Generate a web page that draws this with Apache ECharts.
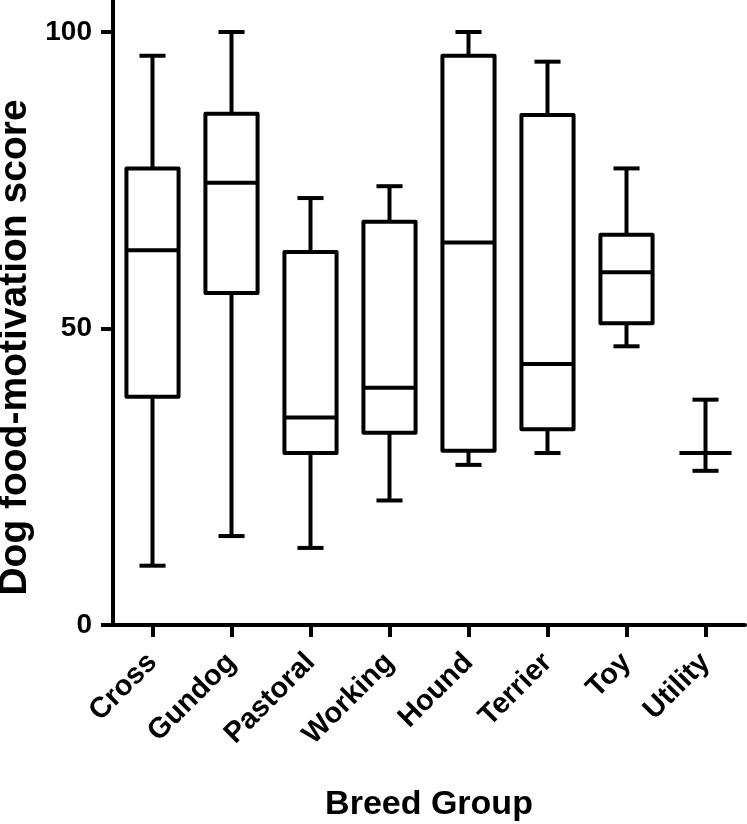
<!DOCTYPE html>
<html>
<head>
<meta charset="utf-8">
<script src="https://cdn.jsdelivr.net/npm/echarts@6/dist/echarts.min.js"></script>
<style>html,body{margin:0;padding:0;background:#fff;}#c{width:747px;height:824px;}</style>
</head>
<body>
<div id="c"></div>
<script>
const categories = ['Cross', 'Gundog', 'Pastoral', 'Working', 'Hound', 'Terrier', 'Toy', 'Utility'];
const minVals = [10, 15, 13, 21, 27, 29, 47, 26];
const q1Vals  = [38.5, 56, 29, 32.4, 29.4, 33, 50.9, 29];
const medVals = [63.2, 74.6, 35, 40, 64.5, 44, 59.5, 29];
const q3Vals  = [77, 86.2, 62.9, 68, 96, 86, 65.8, 29];
const maxVals = [96, 100, 72, 74, 100, 95, 77, 38];
const yTicks = [0, 50, 100];

const FONT = "'Liberation Sans', Arial, sans-serif";
const chart = echarts.init(document.getElementById('c'), null, {renderer: 'canvas'});

const seriesData = categories.map((c, i) => [i, minVals[i], q1Vals[i], medVals[i], q3Vals[i], maxVals[i]]);

function renderItem(params, api) {
  const i = api.value(0);
  const pMin = api.coord([i, api.value(1)]);
  const pQ1 = api.coord([i, api.value(2)]);
  const pMed = api.coord([i, api.value(3)]);
  const pQ3 = api.coord([i, api.value(4)]);
  const pMax = api.coord([i, api.value(5)]);
  const bw = api.size([1, 0])[0] * 0.66;
  const cw = bw / 2;
  const x = pMed[0];
  const ls = {stroke: '#000', lineWidth: 4, fill: null};
  const children = [];
  if (pQ1[1] - pQ3[1] > 0.5) {
    children.push({type: 'rect', shape: {x: x - bw / 2, y: pQ3[1], width: bw, height: pQ1[1] - pQ3[1]},
      style: {stroke: '#000', lineWidth: 4, fill: 'rgba(0,0,0,0)', lineJoin: 'round'}});
  }
  children.push({type: 'line', shape: {x1: x - bw / 2, y1: pMed[1], x2: x + bw / 2, y2: pMed[1]}, style: ls});
  children.push({type: 'line', shape: {x1: x, y1: pQ3[1], x2: x, y2: pMax[1]}, style: ls});
  children.push({type: 'line', shape: {x1: x, y1: pQ1[1], x2: x, y2: pMin[1]}, style: ls});
  children.push({type: 'line', shape: {x1: x - cw / 2, y1: pMax[1], x2: x + cw / 2, y2: pMax[1]}, style: ls});
  children.push({type: 'line', shape: {x1: x - cw / 2, y1: pMin[1], x2: x + cw / 2, y2: pMin[1]}, style: ls});
  return {type: 'group', children: children};
}

chart.setOption({
  animation: false,
  backgroundColor: '#fff',
  grid: {left: 113, right: 2, top: 0, bottom: 199, containLabel: false, outerBoundsMode: 'none'},
  xAxis: {
    type: 'category',
    data: categories,
    boundaryGap: true,
    name: 'Breed Group',
    nameLocation: 'middle',
    nameGap: 180,
    nameTextStyle: {fontFamily: FONT, fontWeight: 'bold', fontSize: 34, color: '#000', verticalAlign: 'middle'},
    axisLine: {show: true, lineStyle: {color: '#000', width: 4}},
    axisTick: {show: true, alignWithLabel: true, length: 12, lineStyle: {color: '#000', width: 4}},
    axisLabel: {interval: 0, rotate: 45, margin: 33, fontFamily: FONT, fontWeight: 'bold', fontSize: 29, color: '#000'},
    splitLine: {show: false}
  },
  yAxis: {
    type: 'value',
    min: 0,
    max: 105.4,
    name: 'Dog food-motivation score',
    nameLocation: 'middle',
    nameGap: 89,
    nameTextStyle: {fontFamily: FONT, fontWeight: 'bold', fontSize: 39, color: '#000', verticalAlign: 'middle', padding: [0, 70, 0, 0]},
    axisLine: {show: true, lineStyle: {color: '#000', width: 4}},
    axisTick: {show: true, length: 12, customValues: yTicks, lineStyle: {color: '#000', width: 4}},
    axisLabel: {margin: 21, customValues: yTicks, fontFamily: FONT, fontWeight: 'bold', fontSize: 28, color: '#000'},
    splitLine: {show: false}
  },
  series: [{
    type: 'custom',
    renderItem: renderItem,
    data: seriesData,
    encode: {x: 0, y: [1, 2, 3, 4, 5]},
    clip: false
  }]
});
</script>
</body>
</html>
